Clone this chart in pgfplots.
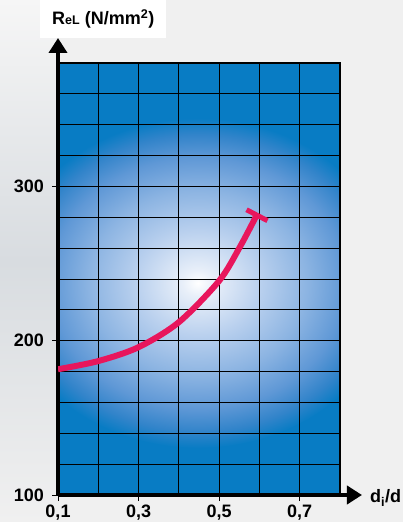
\documentclass[border=0pt]{standalone}
\usepackage{pgfplots}
\pgfplotsset{compat=1.18}
\usepackage{fontspec}
\setmainfont{Liberation Sans}
\usetikzlibrary{arrows.meta}
\definecolor{plotblue}{RGB}{8,124,196}
\definecolor{curvered}{RGB}{232,22,92}
\definecolor{ga}{RGB}{232,239,249}
\definecolor{gb}{RGB}{185,208,238}
\definecolor{gc}{RGB}{140,180,226}
\definecolor{gd}{RGB}{95,152,214}
\definecolor{ge}{RGB}{50,132,202}
\definecolor{bglight}{RGB}{240,240,240}
\definecolor{bggray}{RGB}{216,220,224}
\definecolor{bgtop}{RGB}{246,246,246}
\pgfdeclareradialshading{glow}{\pgfpoint{0bp}{0bp}}{color(0bp)=(white); color(2bp)=(ga); color(8bp)=(gb); color(14bp)=(gc); color(19bp)=(gd); color(22.5bp)=(ge); color(25bp)=(plotblue); color(50bp)=(plotblue)}
\begin{document}
\begin{tikzpicture}
% page background
\fill[bglight] (0,0) rectangle (403bp,522bp);
\shade[top color=bgtop, bottom color=bglight, middle color=bggray] (0,0) rectangle (58bp,522bp);
\fill[white] (40bp,484bp) rectangle (166bp,522bp);
% plot area background
\fill[plotblue] (58bp,27bp) rectangle (340bp,459bp);
\begin{scope}
\clip (58bp,27bp) rectangle (340bp,459bp);
\shade[shading=glow] (198bp,239bp) ellipse [x radius=195bp, y radius=165bp];
\end{scope}
\begin{axis}[
  at={(58bp,27bp)}, anchor=south west,
  scale only axis, width=282bp, height=432bp,
  xmin=0.1, xmax=0.8, ymin=100, ymax=380,
  axis lines=left,
  axis line style={line width=4.5bp},
  x axis line style={-{Triangle[width=18bp,length=15bp]}, shorten >=-22bp},
  y axis line style={-{Triangle[width=18bp,length=15bp]}, shorten >=-25bp},
  xtick={0.1,0.3,0.5,0.7},
  minor xtick={0.2,0.4,0.6,0.8},
  ytick={100,200,300},
  minor ytick={120,140,160,180,220,240,260,280,320,340,360,380},
  xticklabels={{0,1},{0,3},{0,5},{0,7}},
  yticklabels={100,200,300},
  grid=both,
  major grid style={black, line width=0.9bp},
  minor grid style={black, line width=0.9bp},
  tick align=outside,
  major tick length=6bp,
  minor tick length=0pt,
  tick style={black, line width=0.8bp},
  tick label style={font=\fontsize{18bp}{20bp}\selectfont\bfseries},
  yticklabel style={anchor=east, inner sep=0pt, xshift=-8bp},
  xticklabel style={anchor=north, inner sep=0pt, yshift=-4bp},
  every axis y label/.style={at={(axis description cs:-0.0213,1.088)}, anchor=base west, inner sep=0pt, font=\fontsize{18bp}{20bp}\selectfont\bfseries},
  every axis x label/.style={at={(axis description cs:1.106,-0.0185)}, anchor=base west, inner sep=0pt, font=\fontsize{18bp}{20bp}\selectfont\bfseries},
  ylabel={R{\fontsize{12.5bp}{14bp}\selectfont eL} (N/mm\textsuperscript{2})},
  xlabel={d\textsubscript{i}/d},
]
\addplot[curvered, line width=6bp, smooth] coordinates {(0.1,181.5) (0.2,186.8) (0.3,195.8) (0.4,212) (0.5,238.8) (0.552,261) (0.593,281.3)};
\addplot[curvered, line width=5bp] coordinates {(0.568,284.9) (0.620,277.8)};
\end{axis}
\draw[black, line width=1.6bp] (58bp,459bp) -- (340bp,459bp) -- (340bp,27bp);
\pgfresetboundingbox
\useasboundingbox (0,0) rectangle (403bp,522bp);
\end{tikzpicture}
\end{document}
